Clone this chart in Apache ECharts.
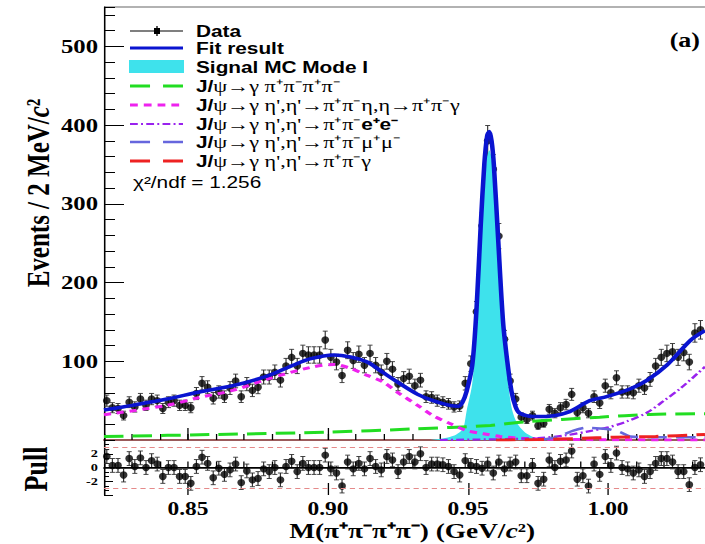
<!DOCTYPE html>
<html>
<head>
<meta charset="utf-8">
<script src="https://cdn.jsdelivr.net/npm/echarts@6.0.0/dist/echarts.min.js"></script>
<style>
  html, body { margin: 0; padding: 0; background: #fff; overflow: hidden; }
  /* the reference picture is stretched sideways, so draw narrower and stretch */
  #main { width: 542px; height: 544px; transform: scaleX(1.3007); transform-origin: 0 0; }
</style>
</head>
<body>
<div id="main"></div>
<script>
const S = 705 / 542;
const XMIN = 0.82, XMAX = 1.0346;

// events per 2 MeV bin, first bin centre 0.821 GeV
const dataCounts = [
  50, 41, 40, 31, 48, 42, 52, 44, 52, 50,
  40, 48, 50, 44, 44, 41, 59, 72, 67, 53,
  61, 55, 66, 75, 55, 71, 63, 67, 80, 80,
  86, 76, 94, 105, 94, 110, 108, 108, 108, 127,
  105, 99, 82, 114, 101, 109, 95, 110, 95, 86,
  100, 90, 71, 78, 81, 69, 76, 55, 54, 50,
  48, 46, 42, 43, 72, 97, 163, 272, 380, 344,
  259, 128, 75, 52, 29, 26, 31, 18, 21, 39,
  34, 41, 45, 58, 35, 41, 34, 55, 47, 69,
  60, 79, 61, 61, 60, 69, 66, 77, 94, 105,
  110, 112, 105, 111, 99, 136, 140
]
const dataErrors = [
  7.1, 6.4, 6.3, 5.6, 6.9, 6.5, 7.2, 6.6, 7.2, 7.1,
  6.3, 6.9, 7.1, 6.6, 6.6, 6.4, 7.7, 8.5, 8.2, 7.3,
  7.8, 7.4, 8.1, 8.7, 7.4, 8.4, 7.9, 8.2, 8.9, 8.9,
  9.3, 8.7, 9.7, 10.2, 9.7, 10.5, 10.4, 10.4, 10.4, 11.3,
  10.2, 9.9, 9.1, 10.7, 10.0, 10.4, 9.7, 10.5, 9.7, 9.3,
  10.0, 9.5, 8.4, 8.8, 9.0, 8.3, 8.7, 7.4, 7.3, 7.1,
  6.9, 6.8, 6.5, 6.6, 8.5, 9.8, 12.8, 16.5, 19.5, 18.5,
  16.1, 11.3, 8.7, 7.2, 5.4, 5.1, 5.6, 4.2, 4.6, 6.2,
  5.8, 6.4, 6.7, 7.6, 5.9, 6.4, 5.8, 7.4, 6.9, 8.3,
  7.7, 8.9, 7.8, 7.8, 7.7, 8.3, 8.1, 8.8, 9.7, 10.2,
  10.5, 10.6, 10.2, 10.5, 9.9, 11.7, 11.8
]
const pullValues = [
  1.6, 0.3, 0.3, -1.1, 1.3, 0.15, 1.4, 0, 1.0, 0.5,
  -1.3, 0, 0, -1.3, -1.3, -2.3, 0.15, 1.5, 0.6, -1.5,
  -0.1, -1.0, -0.35, 0.5, -2.2, -0.5, -1.8, -1.6, -0.2, -0.6,
  0, -1.8, 0.15, 0.9, -0.6, 0.6, 0, 0, 0, 1.8,
  -0.2, -0.8, -2.7, 0.8, -0.2, 0.6, -0.2, 1.3, 0.15, -0.35,
  1.6, 1.1, -0.6, 0.8, 1.6, 0.8, 2.0, 0, 0.5, 0.5,
  0.4, 0.15, -0.6, -1.1, 1.0, 0.3, 0.15, -0.1, 0.5, -0.8,
  0.8, -0.2, 0.5, 0.8, -1.2, -1.2, 0.3, -2.3, -1.7, 1.1,
  0, 0.9, 1.1, 2.4, -1.7, -1.2, -2.7, 0.5, -1.0, 1.6,
  0.3, 2.1, 0, -0.2, -0.8, -0.35, -1.3, -0.6, 0.6, 1.3,
  1.3, 0.8, -0.6, -0.6, -2.5, 0, 0.4
]
const pullErr = 1

// fit result (blue)
const fitMass = [0.820, 0.830, 0.8425, 0.854, 0.866, 0.878, 0.8875, 0.8935, 0.902, 0.908,
  0.914, 0.9195, 0.9255, 0.932, 0.9375, 0.9435, 0.9465, 0.948, 0.9495, 0.9515,
  0.953, 0.9545, 0.9558, 0.9568, 0.9576, 0.9584, 0.9592, 0.9607, 0.9625, 0.964,
  0.9655, 0.967, 0.9685, 0.9732, 0.978, 0.9855, 0.9935, 0.9995, 1.008, 1.014,
  1.021, 1.0295, 1.0346]
const fitCurve = [38, 44, 52, 61, 69, 81, 95, 103, 108, 105.5,
  99, 86, 72, 58, 50, 44, 43, 48, 62, 95,
  165, 271, 350, 386, 392, 380, 350, 258, 150, 100,
  62, 42, 34, 30, 30, 35, 50, 55, 65, 76,
  95, 127, 139]
// signal MC mode I (cyan)
const sigMass = [0.936, 0.941, 0.9445, 0.947, 0.9484, 0.9495, 0.9515, 0.953, 0.9545, 0.9558,
  0.9568, 0.9576, 0.9584, 0.9592, 0.9607, 0.9625, 0.964, 0.9655, 0.967, 0.9686,
  0.971, 0.974, 0.978]
const sigCurve = [0, 2, 5, 10, 16, 37, 72, 143, 245, 325,
  360, 368, 357, 330, 235, 135, 82, 42, 25, 16,
  8, 3, 0]
// J/psi -> gamma pi+pi-pi+pi- (green)
const bkg4piMass = [0.82, 0.86, 0.90, 0.93, 0.958, 0.97, 0.997, 1.015, 1.0346]
const bkg4piCurve = [4.5, 7, 10, 14, 18.5, 23, 29, 32.5, 33.5]
// eta' -> pi+pi-eta, eta -> pi+pi-gamma (magenta)
const bkgEtaMass = [0.82, 0.8425, 0.854, 0.866, 0.878, 0.8935, 0.902, 0.908, 0.914, 0.9195,
  0.9255, 0.932, 0.9375, 0.9435, 0.9495, 0.9555, 0.9615, 0.97, 0.98, 1.0, 1.0346]
const bkgEtaCurve = [32, 44, 54, 63, 77, 92, 96, 91, 82, 74,
  59, 44, 31, 21, 12, 8, 4.5, 2, 1, 0.3, 0]
// eta' -> pi+pi-e+e- (purple)
const bkgEEMass = [0.94, 0.96, 0.975, 0.985, 0.993, 1.0, 1.007, 1.014, 1.02, 1.026, 1.0346]
const bkgEECurve = [0, 1, 2.5, 6, 11, 16, 24, 35, 50, 66, 93]
// eta' -> pi+pi-mu+mu- (slate blue)
const bkgMuMass = [0.975, 0.9817, 0.9876, 0.9924, 0.9995, 1.0043, 1.0079, 1.015, 1.0346]
const bkgMuCurve = [0, 3.6, 12, 15.5, 14, 10, 4.5, 3.5, 3.5]
// eta' -> pi+pi-gamma (red)
const bkgGamMass = [0.96, 0.975, 0.99, 1.002, 1.017, 1.0346]
const bkgGamCurve = [0, 0.5, 2, 3.5, 4.5, 7]

const massTicks = [0.85, 0.90, 0.95, 1.00]

const SERIF = '"Liberation Serif", "Times New Roman", serif'
const SANS = '"Liberation Sans", Arial, sans-serif'

const pairs = (xs, ys) => xs.map((x, i) => [x, ys[i]])
const binCenters = dataCounts.map((_, i) => +(0.821 + 0.002 * i).toFixed(3))
const px = v => v / S   // reference x pixel -> drawing x

function errorBars(color, capHalf) {
  return function (params, api) {
    const x = api.value(0), y = api.value(1), e = api.value(2)
    const hi = api.coord([x, y + e]), lo = api.coord([x, y - e])
    const st = { stroke: color, lineWidth: 0.9 }
    return {
      type: 'group', children: [
        { type: 'line', shape: { x1: hi[0], y1: hi[1], x2: lo[0], y2: lo[1] }, style: st },
        { type: 'line', shape: { x1: hi[0] - capHalf, y1: hi[1], x2: hi[0] + capHalf, y2: hi[1] }, style: st },
        { type: 'line', shape: { x1: lo[0] - capHalf, y1: lo[1], x2: lo[0] + capHalf, y2: lo[1] }, style: st }
      ]
    }
  }
}

function curve(name, xs, ys, color, width, dash) {
  return {
    name: name, type: 'line', xAxisIndex: 0, yAxisIndex: 0,
    data: pairs(xs, ys), smooth: 0.3, symbol: 'none', silent: true,
    lineStyle: { color: color, width: width, type: dash }
  }
}

const chart = echarts.init(document.getElementById('main'), null, { renderer: 'svg' })

const legendRows = [
  { y: 86, color: '#22dd22', width: 3, dash: [15.4, 10], parts: '{b|J/}{g|ψ→γ π⁺π⁻π⁺π⁻}' },
  { y: 105, color: '#ee22ee', width: 3, dash: [6, 4.6], parts: '{b|J/}{g|ψ→γ η\',η\'→π⁺π⁻η,η→π⁺π⁻γ}' },
  { y: 124, color: '#9922ee', width: 2.2, dash: [6, 2.5, 1.5, 2.5], parts: '{b|J/}{g|ψ→γ η\',η\'→π⁺π⁻}{b|e⁺e⁻}' },
  { y: 142, color: '#6666dd', width: 2.5, dash: [15.4, 10], parts: '{b|J/}{g|ψ→γ η\',η\'→π⁺π⁻μ⁺μ⁻}' },
  { y: 161, color: '#ee2222', width: 3, dash: [15.4, 10], parts: '{b|J/}{g|ψ→γ η\',η\'→π⁺π⁻γ}' }
]
const legendRich = {
  b: { fontFamily: SANS, fontWeight: 'bold', fontSize: 16, fill: '#000' },
  g: { fontFamily: SERIF, fontSize: 17, fill: '#000' }
}

const graphics = [
  { type: 'line', shape: { x1: px(104), y1: 7, x2: 542, y2: 7 }, style: { stroke: '#999', lineWidth: 1.5 } },
  // data entry
  { type: 'line', shape: { x1: px(130), y1: 31, x2: px(183), y2: 31 }, style: { stroke: '#000', lineWidth: 1 } },
  { type: 'line', shape: { x1: px(157), y1: 26, x2: px(157), y2: 36 }, style: { stroke: '#000', lineWidth: 1 } },
  { type: 'rect', shape: { x: px(154), y: 28, width: px(6), height: 6 }, style: { fill: '#000' } },
  { type: 'text', x: px(196), y: 31, style: { text: 'Data', font: 'bold 16px ' + SANS, fill: '#000', textVerticalAlign: 'middle', verticalAlign: 'middle' } },
  // fit entry
  { type: 'line', shape: { x1: px(130), y1: 48, x2: px(183), y2: 48 }, style: { stroke: '#0a14d0', lineWidth: 3 } },
  { type: 'text', x: px(196), y: 48, style: { text: 'Fit result', font: 'bold 16px ' + SANS, fill: '#000', textVerticalAlign: 'middle', verticalAlign: 'middle' } },
  // signal entry
  { type: 'rect', shape: { x: px(129), y: 60, width: px(55), height: 13 }, style: { fill: '#3ee2ec' } },
  { type: 'text', x: px(196), y: 67, style: { text: 'Signal MC Mode I', font: 'bold 16px ' + SANS, fill: '#000', textVerticalAlign: 'middle', verticalAlign: 'middle' } },
  { type: 'text', x: px(133), y: 182, style: { text: 'χ²/ndf = 1.256', font: '16px ' + SANS, fill: '#000', textVerticalAlign: 'middle', verticalAlign: 'middle' } },
  { type: 'text', x: px(700), y: 40, style: { text: '(a)', font: 'bold 20px ' + SERIF, fill: '#000', textAlign: 'right', align: 'right', textVerticalAlign: 'middle', verticalAlign: 'middle' } },
  // axis titles
  {
    type: 'text', x: px(38), y: 193, rotation: Math.PI / 2,
    style: {
      text: '{a|Events / 2 MeV/}{i|c}{a|²}', textAlign: 'center', align: 'center', textVerticalAlign: 'middle', verticalAlign: 'middle',
      rich: {
        a: { fontFamily: SERIF, fontWeight: 'bold', fontSize: 25, fill: '#000' },
        i: { fontFamily: SERIF, fontWeight: 'bold', fontStyle: 'italic', fontSize: 25, fill: '#000' }
      }
    }
  },
  { type: 'text', x: px(36), y: 469, rotation: Math.PI / 2, style: { text: 'Pull', font: 'bold 26px ' + SERIF, fill: '#000', textAlign: 'center', align: 'center', textVerticalAlign: 'middle', verticalAlign: 'middle' } },
  {
    type: 'text', x: px(412), y: 531,
    style: {
      text: '{a|M(π⁺π⁻π⁺π⁻) (GeV/}{i|c}{a|²)}', textAlign: 'center', align: 'center', textVerticalAlign: 'middle', verticalAlign: 'middle',
      rich: {
        a: { fontFamily: SERIF, fontWeight: 'bold', fontSize: 21, fill: '#000' },
        i: { fontFamily: SERIF, fontWeight: 'bold', fontStyle: 'italic', fontSize: 21, fill: '#000' }
      }
    }
  }
]
legendRows.forEach(r => {
  graphics.push({ type: 'line', shape: { x1: px(130), y1: r.y, x2: px(183), y2: r.y }, style: { stroke: r.color, lineWidth: r.width, lineDash: r.dash } })
  graphics.push({ type: 'text', x: px(196), y: r.y, style: { text: r.parts, rich: legendRich, textVerticalAlign: 'middle', verticalAlign: 'middle' } })
})

const tickStyle = { color: '#000', width: 1 }

chart.setOption({
  animation: false,
  backgroundColor: '#fff',
  grid: [
    { left: px(104), right: 0, top: 7, height: 433 },
    { left: px(104), right: 0, top: 440, height: 55 }
  ],
  xAxis: [
    { gridIndex: 0, type: 'value', min: XMIN, max: XMAX, interval: 0.01, position: 'bottom',
      axisLine: { show: true, lineStyle: { color: '#7a2525', width: 1.5 } },
      axisTick: { inside: true, length: 6, lineStyle: tickStyle }, axisLabel: { show: false }, splitLine: { show: false } },
    { gridIndex: 0, type: 'value', min: XMIN, max: XMAX, position: 'bottom',
      axisLine: { show: false },
      axisTick: { inside: true, length: 12, customValues: massTicks, lineStyle: tickStyle }, axisLabel: { show: false }, splitLine: { show: false } },
    { gridIndex: 1, type: 'value', min: XMIN, max: XMAX, interval: 0.01, position: 'bottom',
      axisLine: { show: true, lineStyle: { color: '#000', width: 1.5 } },
      axisTick: { inside: true, length: 6, lineStyle: tickStyle }, axisLabel: { show: false }, splitLine: { show: false } },
    { gridIndex: 1, type: 'value', min: XMIN, max: XMAX, position: 'bottom',
      axisLine: { show: false },
      axisTick: { inside: true, length: 12, customValues: massTicks, lineStyle: tickStyle },
      axisLabel: { customValues: massTicks, margin: 5, formatter: v => v.toFixed(2), fontFamily: SERIF, fontWeight: 'bold', fontSize: 18, color: '#000' },
      splitLine: { show: false } }
  ],
  yAxis: [
    { gridIndex: 0, type: 'value', min: 0, max: 550, interval: 20, position: 'left',
      axisLine: { show: true, lineStyle: { color: '#000', width: 1.2 } },
      axisTick: { inside: true, length: px(11), lineStyle: tickStyle }, axisLabel: { show: false }, splitLine: { show: false } },
    { gridIndex: 0, type: 'value', min: 0, max: 550, interval: 100, position: 'left',
      axisLine: { show: false },
      axisTick: { inside: true, length: px(20), lineStyle: tickStyle },
      axisLabel: { showMinLabel: false, showMaxLabel: false, margin: px(6), fontFamily: SERIF, fontWeight: 'bold', fontSize: 19, color: '#000' },
      splitLine: { show: false } },
    { gridIndex: 1, type: 'value', min: -4, max: 4, interval: 2, position: 'left',
      axisLine: { show: true, lineStyle: { color: '#000', width: 1.2 } },
      axisTick: { inside: true, length: px(9), lineStyle: tickStyle },
      minorTick: { show: true, splitNumber: 3, length: px(5), lineStyle: tickStyle },
      axisLabel: { showMinLabel: false, showMaxLabel: false, margin: px(6), fontFamily: SERIF, fontWeight: 'bold', fontSize: 11, color: '#000' },
      splitLine: { show: false } }
  ],
  graphic: graphics,
  series: [
    {
      name: 'Signal MC Mode I', type: 'line', xAxisIndex: 0, yAxisIndex: 0,
      data: pairs(sigMass, sigCurve), smooth: 0.3, symbol: 'none', silent: true,
      lineStyle: { width: 0 }, areaStyle: { color: '#3ee2ec', opacity: 1 }
    },
    curve('4pi', bkg4piMass, bkg4piCurve, '#22dd22', 3, [15, 7]),
    curve('eta', bkgEtaMass, bkgEtaCurve, '#ee22ee', 3, [5.5, 4.5]),
    curve('ee', bkgEEMass, bkgEECurve, '#9922ee', 2.2, [6, 2.5, 1.5, 2.5]),
    curve('mumu', bkgMuMass, bkgMuCurve, '#6666dd', 2.5, [15, 7]),
    curve('gamma', bkgGamMass, bkgGamCurve, '#ee2222', 3, [15, 7]),
    curve('Fit result', fitMass, fitCurve, '#0a14d0', 3.5, 'solid'),
    {
      name: 'data errors', type: 'custom', xAxisIndex: 0, yAxisIndex: 0, silent: true,
      renderItem: errorBars('#333', px(2.5)), encode: { x: 0, y: 1 },
      data: binCenters.map((x, i) => [x, dataCounts[i], dataErrors[i]])
    },
    {
      name: 'Data', type: 'scatter', xAxisIndex: 0, yAxisIndex: 0, silent: true,
      symbol: 'circle', symbolSize: [6, 7.4], itemStyle: { color: '#000' },
      data: binCenters.map((x, i) => [x, dataCounts[i]])
    },
    {
      name: 'pull errors', type: 'custom', xAxisIndex: 2, yAxisIndex: 2, silent: true,
      renderItem: errorBars('#333', px(2.5)), encode: { x: 0, y: 1 },
      data: binCenters.map((x, i) => [x, pullValues[i], pullErr])
    },
    {
      name: 'Pull', type: 'scatter', xAxisIndex: 2, yAxisIndex: 2, silent: true,
      symbol: 'circle', symbolSize: [6, 7.4], itemStyle: { color: '#000' },
      data: binCenters.map((x, i) => [x, pullValues[i]]),
      markLine: {
        silent: true, symbol: 'none', label: { show: false }, animation: false,
        data: [
          { yAxis: 0, lineStyle: { color: '#000', type: 'solid', width: 1 } },
          { yAxis: 3, lineStyle: { color: '#e58a8a', type: [4, 3], width: 1.2 } },
          { yAxis: -3, lineStyle: { color: '#e58a8a', type: [4, 3], width: 1.2 } }
        ]
      }
    }
  ]
})
</script>
</body>
</html>
